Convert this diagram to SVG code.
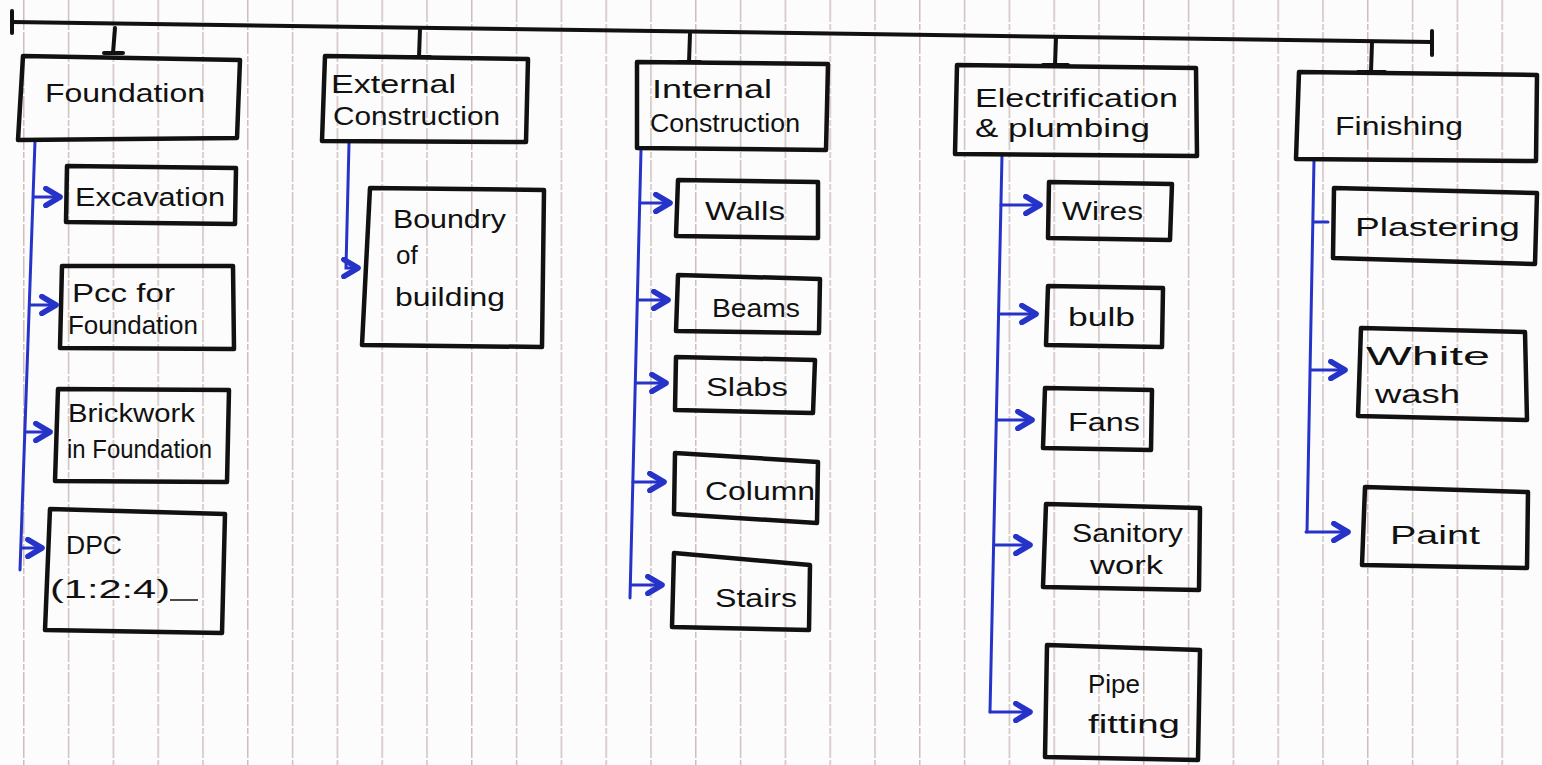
<svg xmlns="http://www.w3.org/2000/svg" width="1542" height="765" viewBox="0 0 1542 765">
<style>
.box{fill:none;stroke:#111111;stroke-width:4.5;stroke-linejoin:round}
.t{font-family:"Liberation Sans","DejaVu Sans",sans-serif;font-size:26px;fill:#111111}
.blk{stroke:#111111;stroke-width:4;fill:none;stroke-linecap:round}
.blue{stroke:#2633c8;stroke-width:3;fill:none;stroke-linecap:round}
</style>
<defs>
<pattern id="ruled" x="23" y="0" width="44.8" height="765" patternUnits="userSpaceOnUse">
<line x1="0.8" y1="0" x2="0.8" y2="765" stroke="#c2b1b1" stroke-width="1.2" stroke-dasharray="22 2 6 2"/>
</pattern>
<marker id="ah" viewBox="0 0 12 12" refX="10" refY="6" markerWidth="7.5" markerHeight="7.5" orient="auto" markerUnits="strokeWidth">
<path d="M2.5,1.5 L10,6 L2.5,10.5" fill="none" stroke="#2633c8" stroke-width="3" stroke-linecap="round" stroke-linejoin="round"/>
</marker>
</defs>
<rect width="1542" height="765" fill="#fdfcfc"/>
<rect width="1542" height="765" fill="url(#ruled)"/>

<g id="connectors">
<path class="blk" d="M12,22 L1432,42"/>
<path class="blk" d="M12,11 L12,33" stroke-width="6"/>
<path class="blk" d="M1432,31 L1432,55" stroke-width="6"/>
<path class="blk" d="M115,28 L113,53 M104,53 L123,53"/>
<path class="blk" d="M420,29 L419,57 M408,57 L430,57"/>
<path class="blk" d="M690,34 L689,62 M678,62 L700,62"/>
<path class="blk" d="M1056,38 L1055,65 M1043,65 L1068,65"/>
<path class="blk" d="M1372,42 L1371,72 M1358,72 L1385,72"/>
<path class="blue" d="M35,141 L20,570"/>
<path class="blue" d="M34,197 L60,197" marker-end="url(#ah)"/>
<path class="blue" d="M30,305 L56,305" marker-end="url(#ah)"/>
<path class="blue" d="M26,432 L50,432" marker-end="url(#ah)"/>
<path class="blue" d="M22,548 L42,548" marker-end="url(#ah)"/>
<path class="blue" d="M349,143 L346,268 L358,268" marker-end="url(#ah)"/>
<path class="blue" d="M641,150 L630,598"/>
<path class="blue" d="M640,203 L670,203" marker-end="url(#ah)"/>
<path class="blue" d="M638,300 L668,300" marker-end="url(#ah)"/>
<path class="blue" d="M636,383 L666,383" marker-end="url(#ah)"/>
<path class="blue" d="M633,482 L664,482" marker-end="url(#ah)"/>
<path class="blue" d="M631,585 L662,585" marker-end="url(#ah)"/>
<path class="blue" d="M1002,155 L990,712"/>
<path class="blue" d="M1001,205 L1040,205" marker-end="url(#ah)"/>
<path class="blue" d="M999,314 L1036,314" marker-end="url(#ah)"/>
<path class="blue" d="M997,420 L1032,420" marker-end="url(#ah)"/>
<path class="blue" d="M994,545 L1030,545" marker-end="url(#ah)"/>
<path class="blue" d="M990,712 L1030,712" marker-end="url(#ah)"/>
<path class="blue" d="M1314,160 L1307,532"/>
<path class="blue" d="M1314,222 L1328,222"/>
<path class="blue" d="M1311,370 L1345,370" marker-end="url(#ah)"/>
<path class="blue" d="M1306,532 L1348,532" marker-end="url(#ah)"/>
</g>

<g id="foundation">
<polygon class="box" points="23,56 240,60 237,138 18,140"/>
<text class="t" x="45" y="102" font-size="28" textLength="160" lengthAdjust="spacingAndGlyphs">Foundation</text>
</g>
<g id="external-construction">
<polygon class="box" points="325,56 528,59 526,142 322,141"/>
<text class="t" x="331" y="93" textLength="125" lengthAdjust="spacingAndGlyphs">External</text>
<text class="t" x="333" y="125" textLength="167" lengthAdjust="spacingAndGlyphs">Construction</text>
</g>
<g id="internal-construction">
<polygon class="box" points="637,62 828,64 826,150 637,148"/>
<text class="t" x="652" y="98" textLength="120" lengthAdjust="spacingAndGlyphs">Internal</text>
<text class="t" x="650" y="132" textLength="150" lengthAdjust="spacingAndGlyphs">Construction</text>
</g>
<g id="electrification-plumbing">
<polygon class="box" points="957,65 1196,68 1197,156 955,154"/>
<text class="t" x="975" y="107" textLength="203" lengthAdjust="spacingAndGlyphs">Electrification</text>
<text class="t" x="975" y="137" textLength="175" lengthAdjust="spacingAndGlyphs">&amp; plumbing</text>
</g>
<g id="finishing">
<polygon class="box" points="1299,72 1537,75 1536,161 1296,159"/>
<text class="t" x="1335" y="135" font-size="30" textLength="128" lengthAdjust="spacingAndGlyphs">Finishing</text>
</g>

<g id="excavation">
<polygon class="box" points="67,166 236,168 235,224 66,222"/>
<text class="t" x="75" y="206" font-size="24" textLength="150" lengthAdjust="spacingAndGlyphs">Excavation</text>
</g>
<g id="pcc-for-foundation">
<polygon class="box" points="62,266 233,266 234,349 60,348"/>
<text class="t" x="72" y="302" textLength="103" lengthAdjust="spacingAndGlyphs">Pcc for</text>
<text class="t" x="68" y="334" font-size="25" textLength="130" lengthAdjust="spacingAndGlyphs">Foundation</text>
</g>
<g id="brickwork-in-foundation">
<polygon class="box" points="58,389 229,390 227,482 55,481"/>
<text class="t" x="68" y="422" font-size="24" textLength="127" lengthAdjust="spacingAndGlyphs">Brickwork</text>
<text class="t" x="67" y="458" font-size="25" textLength="145" lengthAdjust="spacingAndGlyphs">in Foundation</text>
</g>
<g id="dpc">
<polygon class="box" points="50,509 225,514 222,633 45,630"/>
<text class="t" x="66" y="554" font-size="29" textLength="56" lengthAdjust="spacingAndGlyphs">DPC</text>
<text class="t" x="50" y="598" font-size="28" textLength="120" lengthAdjust="spacingAndGlyphs">(1:2:4)</text>
<path d="M170,600 L198,600" stroke="#111111" stroke-width="1.5"/>
</g>

<g id="boundry-of-building">
<polygon class="box" points="370,188 544,190 542,347 362,345"/>
<text class="t" x="393" y="228" font-size="28" textLength="113" lengthAdjust="spacingAndGlyphs">Boundry</text>
<text class="t" x="396" y="264" font-size="28">of</text>
<text class="t" x="395" y="306" font-size="28" textLength="110" lengthAdjust="spacingAndGlyphs">building</text>
</g>

<g id="walls">
<polygon class="box" points="678,180 818,182 818,238 676,236"/>
<text class="t" x="705" y="220" textLength="80" lengthAdjust="spacingAndGlyphs">Walls</text>
</g>
<g id="beams">
<polygon class="box" points="678,275 820,279 819,333 676,331"/>
<text class="t" x="712" y="317" textLength="88" lengthAdjust="spacingAndGlyphs">Beams</text>
</g>
<g id="slabs">
<polygon class="box" points="676,357 815,360 813,413 675,410"/>
<text class="t" x="706" y="396" font-size="28" textLength="82" lengthAdjust="spacingAndGlyphs">Slabs</text>
</g>
<g id="column">
<polygon class="box" points="675,453 818,462 817,523 674,514"/>
<text class="t" x="705" y="500" textLength="110" lengthAdjust="spacingAndGlyphs">Column</text>
</g>
<g id="stairs">
<polygon class="box" points="674,553 810,565 809,630 672,627"/>
<text class="t" x="715" y="607" font-size="28" textLength="82" lengthAdjust="spacingAndGlyphs">Stairs</text>
</g>

<g id="wires">
<polygon class="box" points="1049,182 1172,184 1170,240 1048,238"/>
<text class="t" x="1062" y="220" font-size="27" textLength="81" lengthAdjust="spacingAndGlyphs">Wires</text>
</g>
<g id="bulb">
<polygon class="box" points="1048,286 1163,288 1162,347 1046,345"/>
<text class="t" x="1068" y="326" textLength="67" lengthAdjust="spacingAndGlyphs">bulb</text>
</g>
<g id="fans">
<polygon class="box" points="1045,388 1152,390 1151,450 1043,448"/>
<text class="t" x="1068" y="431" textLength="72" lengthAdjust="spacingAndGlyphs">Fans</text>
</g>
<g id="sanitory-work">
<polygon class="box" points="1046,504 1200,508 1199,590 1043,587"/>
<text class="t" x="1072" y="542" font-size="22" textLength="111" lengthAdjust="spacingAndGlyphs">Sanitory</text>
<text class="t" x="1090" y="574" font-size="24" textLength="73" lengthAdjust="spacingAndGlyphs">work</text>
</g>
<g id="pipe-fitting">
<polygon class="box" points="1047,645 1200,650 1198,760 1045,757"/>
<text class="t" x="1088" y="693" font-size="28" textLength="52" lengthAdjust="spacingAndGlyphs">Pipe</text>
<text class="t" x="1088" y="733" font-size="27" textLength="92" lengthAdjust="spacingAndGlyphs">fitting</text>
</g>

<g id="plastering">
<polygon class="box" points="1334,188 1537,193 1535,264 1333,258"/>
<text class="t" x="1355" y="236" font-size="28" textLength="165" lengthAdjust="spacingAndGlyphs">Plastering</text>
</g>
<g id="white-wash">
<polygon class="box" points="1361,328 1525,332 1527,420 1358,416"/>
<text class="t" x="1366" y="365" font-size="28" textLength="124" lengthAdjust="spacingAndGlyphs">White</text>
<text class="t" x="1375" y="403" font-size="26" textLength="85" lengthAdjust="spacingAndGlyphs">wash</text>
</g>
<g id="paint">
<polygon class="box" points="1365,487 1528,492 1527,568 1362,565"/>
<text class="t" x="1390" y="544" font-size="30" textLength="90" lengthAdjust="spacingAndGlyphs">Paint</text>
</g>
</svg>
